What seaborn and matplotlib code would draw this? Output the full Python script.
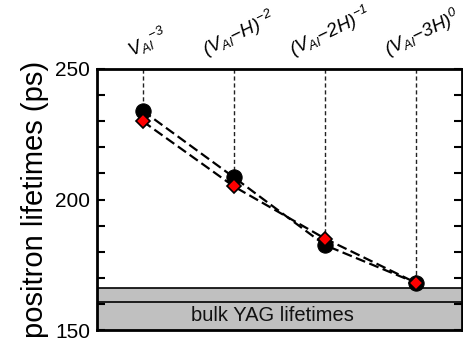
import matplotlib
matplotlib.use("Agg")
import matplotlib.pyplot as plt
import seaborn as sns
import numpy as np
import pandas as pd
from matplotlib.ticker import MultipleLocator

# data
positions = [0, 1, 2, 3]
defect_labels = [r"$V_{Al}{}^{-3}$", r"$(V_{Al}\mathsf{-}H)^{-2}$",
                 r"$(V_{Al}\mathsf{-}2H)^{-1}$", r"$(V_{Al}\mathsf{-}3H)^{0}$"]
lifetimes_circle = [234, 208.5, 182.5, 168]
lifetimes_diamond = [230, 205, 185, 168]
bulk_low = 150
bulk_high = 166
bulk_line = 160.6
bulk_text = "bulk YAG lifetimes"

sns.set_theme(style="ticks")
plt.rcParams['font.family'] = ['Liberation Sans', 'DejaVu Sans']
plt.rcParams['mathtext.fontset'] = 'custom'
plt.rcParams['mathtext.it'] = 'Liberation Sans:italic'
plt.rcParams['mathtext.rm'] = 'Liberation Sans:italic'
plt.rcParams['mathtext.sf'] = 'Liberation Sans:italic'
plt.rcParams['text.color'] = 'black'
plt.rcParams['axes.labelcolor'] = 'black'

fig = plt.figure(figsize=(4.64, 3.42), dpi=100)
ax = fig.add_axes([97/464, 1-330/342, (462-97)/464, (330-69)/342])

ax.set_xlim(-0.5, 3.5)
ax.set_ylim(150, 250)

# bulk band
ax.axhspan(bulk_low, bulk_high, facecolor='#c0c0c0', edgecolor='none', zorder=0)
ax.axhline(bulk_high, color='black', lw=1.2, zorder=1)
ax.axhline(bulk_line, color='black', lw=1.2, zorder=1)
ax.text(1.42, 155.6, bulk_text, ha='center', va='center', fontsize=14.5, color='#111111')

# vertical dashed guides
for x, c, d in zip(positions, lifetimes_circle, lifetimes_diamond):
    ax.plot([x, x], [250, max(c, d)], color='#222222', lw=1.0, dashes=(3, 2), zorder=1)

df_c = pd.DataFrame({"x": positions, "y": lifetimes_circle})
df_d = pd.DataFrame({"x": positions, "y": lifetimes_diamond})

sns.lineplot(data=df_c, x="x", y="y", ax=ax, color='black', lw=1.6, linestyle='--',
             marker='o', markersize=11, markeredgecolor='black', markerfacecolor='black', zorder=3)
sns.lineplot(data=df_d, x="x", y="y", ax=ax, color='black', lw=1.6, linestyle='--',
             marker='D', markersize=7, markeredgecolor='black', markerfacecolor='#ff0000',
             markeredgewidth=1.2, zorder=4)
for ln in ax.get_lines()[-2:]:
    ln.set_dashes((4.5, 2))

# top labels
for x, lab in zip(positions, defect_labels):
    ax.text(x + 0.06, 252.5, lab, ha='center', va='bottom', rotation=26, fontsize=13.5,
            color='black', transform=ax.transData, clip_on=False)

ax.set_xticks([])
ax.set_xlabel("")
ax.set_ylabel("positron lifetimes (ps)", fontsize=21, labelpad=4, color='black')
ax.yaxis.set_major_locator(MultipleLocator(50))
ax.yaxis.set_minor_locator(MultipleLocator(10))
ax.tick_params(axis='y', which='both', direction='in', right=True, left=True,
               length=6, width=1.5, labelsize=15, pad=5, colors='black')
for s in ax.spines.values():
    s.set_linewidth(2)
    s.set_color('black')
    s.set_visible(True)
ax.set_facecolor('white')

fig.savefig("out.png", dpi=100)
